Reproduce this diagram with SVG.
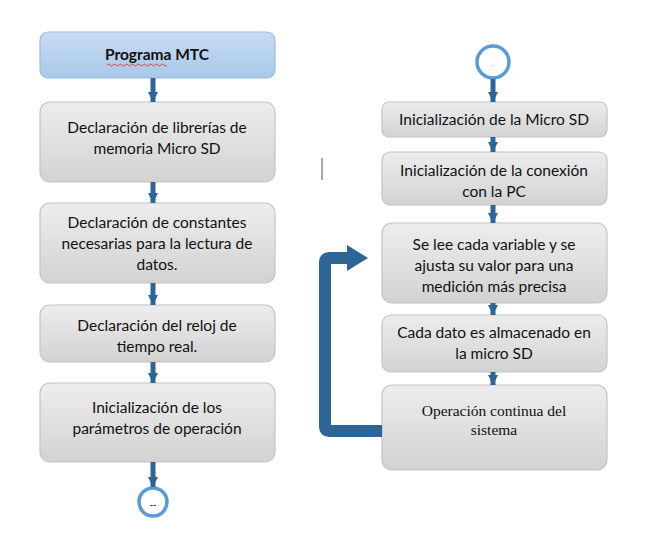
<svg xmlns="http://www.w3.org/2000/svg" width="658" height="533" viewBox="0 0 658 533">
<defs>
<linearGradient id="gGray" x1="0" y1="0" x2="0" y2="1">
<stop offset="0" stop-color="#ededed"/>
<stop offset="1" stop-color="#d2d2d2"/>
</linearGradient>
<linearGradient id="gBlue" x1="0" y1="0" x2="0" y2="1">
<stop offset="0" stop-color="#c8dcf2"/>
<stop offset="1" stop-color="#a9c8ea"/>
</linearGradient>
<marker id="ah" markerUnits="userSpaceOnUse" markerWidth="12" markerHeight="10" refX="10" refY="5" orient="auto">
<path d="M0,0 L10,5 L0,10 Z" fill="#2d6596"/>
</marker>
</defs>
<style>
.box{fill:url(#gGray);stroke:#c4c4c4;stroke-width:1.2}
.top{fill:url(#gBlue);stroke:#9dbbdc;stroke-width:1.2}
.t{font-family:Lato,"Liberation Sans",sans-serif;font-size:15.5px;fill:#111;text-anchor:middle}
.s{font-family:"Liberation Serif",serif;font-size:15.5px;fill:#111;text-anchor:middle}
.c{fill:#2d6596;stroke:none;font-size:0}
.con line{stroke:#2d6596;stroke-width:5;marker-end:url(#ah)}
.circ{fill:#fff;stroke:#5b9bd5;stroke-width:3.5}
</style>
<rect width="658" height="533" fill="#fff"/>

<g id="n0">
<rect class="top" x="40" y="32" width="235" height="46" rx="8"/>
<text class="t" x="157" y="60" font-weight="bold">Programa MTC</text>
<path d="M107,65 q1.5,-2 3,0 t3,0 t3,0 t3,0 t3,0 t3,0 t3,0 t3,0 t3,0 t3,0 t3,0 t3,0 t3,0 t3,0 t3,0 t3,0 t3,0 t3,0 t3,0 t3,0" fill="none" stroke="#e03030" stroke-width="0.9"/>
</g>
<g id="n1">
<rect class="box" x="40" y="102" width="235" height="80" rx="10"/>
<text class="t" x="157" y="133">Declaración de librerías de</text>
<text class="t" x="157" y="154">memoria Micro SD</text>
</g>
<g id="n2">
<rect class="box" x="40" y="203" width="235" height="80" rx="10"/>
<text class="t" x="157" y="228">Declaración de constantes</text>
<text class="t" x="157" y="249">necesarias para la lectura de</text>
<text class="t" x="157" y="270">datos.</text>
</g>
<g id="n3">
<rect class="box" x="40" y="305" width="235" height="57" rx="10"/>
<text class="t" x="157" y="331">Declaración del reloj de</text>
<text class="t" x="157" y="352">tiempo real.</text>
</g>
<g id="n4">
<rect class="box" x="40" y="383" width="235" height="79" rx="10"/>
<text class="t" x="157" y="413">Inicialización de los</text>
<text class="t" x="157" y="434">parámetros de operación</text>
</g>
<g id="n5">
<circle class="circ" cx="153" cy="502" r="14"/>
<text x="153" y="508" font-family="Lato,sans-serif" font-size="9" font-weight="bold" text-anchor="middle" fill="#333">--</text>
</g>

<g id="m0">
<circle class="circ" cx="493" cy="62" r="16"/>
<text x="493" y="66" font-family="Lato,sans-serif" font-size="7" text-anchor="middle" fill="#aaa">..</text>
</g>
<g id="m1">
<rect class="box" x="382" y="102" width="225" height="35" rx="7"/>
<text class="t" x="494" y="125">Inicialización de la Micro SD</text>
</g>
<g id="m2">
<rect class="box" x="382" y="152" width="225" height="53" rx="8"/>
<text class="t" x="494" y="176">Inicialización de la conexión</text>
<text class="t" x="494" y="197">con la PC</text>
</g>
<g id="m3">
<rect class="box" x="382" y="223" width="225" height="80" rx="10"/>
<text class="t" x="494" y="250">Se lee cada variable y se</text>
<text class="t" x="494" y="271">ajusta su valor para una</text>
<text class="t" x="494" y="292">medición más precisa</text>
</g>
<g id="m4">
<rect class="box" x="382" y="315" width="225" height="57" rx="9"/>
<text class="t" x="494" y="338">Cada dato es almacenado en</text>
<text class="t" x="494" y="359">la micro SD</text>
</g>
<g id="m5">
<rect class="box" x="382" y="385" width="225" height="85" rx="10"/>
<text class="s" x="494" y="416">Operación continua del</text>
<text class="s" x="494" y="435">sistema</text>
</g>

<line x1="322" y1="158" x2="322" y2="180" stroke="#555" stroke-width="1"/>

<g id="connectors" class="con">
<line x1="153" y1="78" x2="153" y2="102"/>
<line x1="153" y1="182" x2="153" y2="203"/>
<line x1="153" y1="283" x2="153" y2="305"/>
<line x1="153" y1="362" x2="153" y2="383"/>
<line x1="153" y1="462" x2="153" y2="487"/>
<line x1="493" y1="79" x2="493" y2="102"/>
<line x1="493" y1="137" x2="493" y2="152"/>
<line x1="493" y1="205" x2="493" y2="223"/>
<line x1="493" y1="303" x2="493" y2="315"/>
<line x1="493" y1="372" x2="493" y2="385"/>
<path d="M382,431 H329 Q325,431 325,427 V262 Q325,258 329,258 H350" fill="none" stroke="#2d6596" stroke-width="12" stroke-linejoin="round"/>
<path d="M347,245 L368,258 L347,271 Z" fill="#2d6596"/>
</g>
</svg>
